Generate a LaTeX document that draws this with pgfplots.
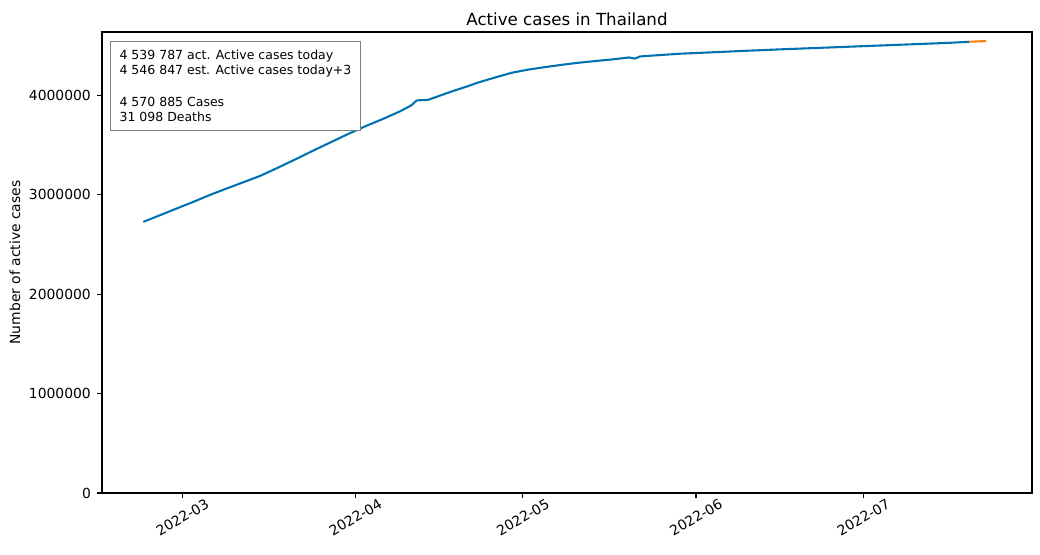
\documentclass[border=0pt]{standalone}
\usepackage{pgfplots}
\pgfplotsset{compat=1.18}
\usepackage{fontspec}
\setmainfont{DejaVu Sans}
\definecolor{cblue}{RGB}{0,114,178}
\definecolor{corange}{RGB}{255,127,14}
\begin{document}
\begin{tikzpicture}
\useasboundingbox (-73.44pt,-43.92pt) rectangle (675.36pt,354.96pt);
\begin{axis}[
  at={(0,0)}, anchor=south west,
  scale only axis,
  width=669.6pt, height=331.92pt,
  xmin=-14.4, xmax=152.2,
  ymin=0, ymax=4638000,
  axis line style={line width=0.8pt},
  tick align=outside,
  major tick length=3.5pt,
  tick style={line width=0.8pt, black},
  xtick={0,31,61,92,122},
  xticklabels={2022-03,2022-04,2022-05,2022-06,2022-07},
  ytick={0,1000000,2000000,3000000,4000000},
  yticklabels={0,1000000,2000000,3000000,4000000},
  xtick pos=bottom, ytick pos=left,
  scaled y ticks=false,
  tick label style={font=\fontsize{10}{12}\selectfont},
  xticklabel style={anchor=center, yshift=-14pt, rotate=30},
  yticklabel style={anchor=east, xshift=-1pt},
  ylabel={Number of active cases},
  ylabel style={at={(axis description cs:-0.0935,0.5)}, anchor=center, font=\fontsize{10}{12}\selectfont},
  title={Active cases in Thailand},
  title style={at={(axis description cs:0.5,1)}, anchor=center, yshift=3.4pt, font=\fontsize{12}{14}\selectfont},
  clip=false,
]
\addplot[cblue, line width=1.5pt] coordinates {
(-7,2728000) (-4,2795000) (-1,2863000) (2,2930000) (5,3000000) (8,3065000)
(11,3128000) (14,3192000) (17,3270000) (20,3350000) (22,3405000) (24,3460000)
(27,3540000) (30,3620000) (33,3695000) (36,3765000) (39,3840000) (41,3900000)
(42,3950000) (44,3955000) (46,3995000) (48.5,4045000) (51,4090000) (53,4130000)
(56,4180000) (59,4228000) (62,4260000) (65,4285000) (68,4308000) (71,4329000)
(74,4346000) (77,4362000) (80,4382000) (81,4370000) (82,4392000) (85,4404000)
(89,4419000) (95,4434000) (101,4449000) (107,4463000) (113,4476000) (119,4489000)
(125,4502000) (131,4515000) (137,4528000) (141,4539787)
};
\addplot[corange, line width=1.5pt] coordinates {
(141,4539787) (144,4546847)
};
\node[draw=black!50, fill=white, line width=0.8pt, anchor=north west, align=left,
  inner xsep=6.5pt, inner ysep=6pt, font=\fontsize{9}{11.2}\selectfont]
  at (axis description cs:0.0086,0.9805)
  {4 539 787 act. Active cases today\\4 546 847 est. Active cases today+3\\[11.2pt]4 570 885 Cases\\31 098 Deaths};
\end{axis}
\end{tikzpicture}
\end{document}
